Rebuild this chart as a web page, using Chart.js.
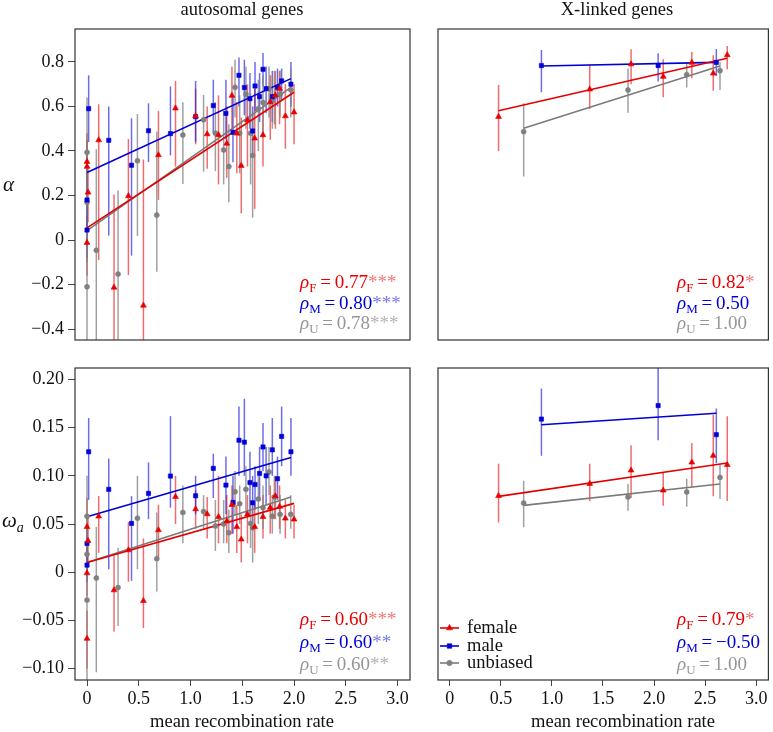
<!DOCTYPE html>
<html>
<head>
<meta charset="utf-8">
<script src="https://cdn.jsdelivr.net/npm/chart.js@4.4.1/dist/chart.umd.min.js"></script>
<style>
  body { margin:0; background:#fff; width:773px; height:732px; overflow:hidden; position:relative; font-family:'Liberation Serif', serif; }
  canvas { position:absolute; left:0; top:0; }
  .t { position:absolute; white-space:nowrap; line-height:1; color:#111; z-index:5; }
  .rho { position:absolute; white-space:nowrap; line-height:1; font-size:19px; z-index:5; }
  .rho sub { font-size:13px; vertical-align:-4px; line-height:0; }
</style>
</head>
<body>
<script>
// ---------- data ----------
const xTicks = [0, 0.5, 1, 1.5, 2, 2.5, 3];
const xTickLabels = ['0', '0.5', '1.0', '1.5', '2.0', '2.5', '3.0'];
const alphaTicks = [-0.4, -0.2, 0, 0.2, 0.4, 0.6, 0.8];
const alphaTickLabels = ['\u22120.4', '\u22120.2', '0', '0.2', '0.4', '0.6', '0.8'];
const omegaTicks = [-0.1, -0.05, 0, 0.05, 0.1, 0.15, 0.2];
const omegaTickLabels = ['\u22120.10', '\u22120.05', '0', '0.05', '0.10', '0.15', '0.20'];

// autosomal, female-biased
const autoFX = [0, 0.01, 0, 0, 0.113, 0.261, 0.40, 0.545, 0.69, 0.855, 1.049, 1.161, 1.27, 1.35, 1.40, 1.447, 1.49, 1.55, 1.62, 1.70, 1.77, 1.82, 1.86, 1.916, 2.0];
const autoFAlpha = [0.352, 0.214, -0.012, 0.33, 0.449, -0.213, 0.198, -0.294, 0.382, 0.592, 0.557, 0.476, 0.472, 0.434, 0.649, 0.479, 0.334, 0.539, 0.457, 0.472, 0.62, 0.65, 0.68, 0.557, 0.574];
const autoFAlphaHi = [0.48, 0.33, 0.11, 0.45, 0.61, 0.205, 0.454, 0.362, 0.58, 0.715, 0.68, 0.60, 0.65, 0.60, 0.78, 0.62, 0.55, 0.70, 0.68, 0.62, 0.74, 0.76, 0.76, 0.70, 0.70];
const autoFAlphaLo = [0.22, 0.08, -0.16, 0.20, -0.09, -0.60, -0.157, -0.70, 0.18, 0.33, 0.43, 0.32, 0.25, 0.28, 0.50, 0.30, 0.12, 0.33, 0.14, 0.33, 0.45, 0.50, 0.52, 0.41, 0.43];
const autoFOmega = [0.047, 0.0326, -0.001, -0.069, 0.058, -0.0187, 0.0229, -0.0298, 0.0437, 0.0783, 0.0655, 0.0603, 0.0575, 0.053, 0.070, 0.047, 0.034, 0.06, 0.047, 0.0575, 0.067, 0.079, 0.068, 0.0558, 0.0548];
const autoFOmegaHi = [0.077, 0.06, 0.025, -0.04, 0.079, 0.017, 0.052, 0.035, 0.07, 0.10, 0.085, 0.078, 0.10, 0.08, 0.09, 0.07, 0.06, 0.08, 0.07, 0.08, 0.09, 0.10, 0.09, 0.075, 0.07];
const autoFOmegaLo = [0.02, 0.005, -0.025, -0.10, 0.02, -0.062, -0.01, -0.058, 0.015, 0.05, 0.045, 0.035, 0.03, 0.03, 0.04, 0.02, 0.01, 0.03, 0.02, 0.035, 0.04, 0.055, 0.045, 0.035, 0.035];

// autosomal, male-biased
const autoMX = [0.016, 0, 0, 0.21, 0.43, 0.594, 0.806, 1.049, 1.22, 1.342, 1.41, 1.468, 1.52, 1.574, 1.60, 1.623, 1.667, 1.70, 1.73, 1.79, 1.84, 1.88, 1.97];
const autoMAlpha = [0.59, 0.18, 0.045, 0.448, 0.336, 0.491, 0.478, 0.554, 0.604, 0.569, 0.484, 0.74, 0.685, 0.635, 0.49, 0.692, 0.644, 0.767, 0.68, 0.644, 0.686, 0.715, 0.70];
const autoMAlphaHi = [0.74, 0.30, 0.17, 0.60, 0.547, 0.614, 0.69, 0.715, 0.72, 0.72, 0.65, 0.82, 0.81, 0.75, 0.60, 0.80, 0.75, 0.84, 0.78, 0.76, 0.77, 0.77, 0.80];
const autoMAlphaLo = [0.44, 0.06, -0.08, 0.02, -0.07, 0.35, 0.38, 0.44, 0.48, 0.45, 0.35, 0.60, 0.56, 0.50, 0.38, 0.58, 0.53, 0.69, 0.57, 0.53, 0.60, 0.63, 0.60];
const autoMOmega = [0.125, 0.0298, 0.0073, 0.086, 0.0506, 0.0818, 0.0998, 0.0793, 0.1078, 0.0904, 0.0724, 0.137, 0.135, 0.093, 0.072, 0.091, 0.1026, 0.130, 0.100, 0.127, 0.097, 0.141, 0.125];
const autoMOmegaHi = [0.16, 0.05, 0.025, 0.118, 0.079, 0.114, 0.162, 0.10, 0.123, 0.12, 0.10, 0.172, 0.18, 0.125, 0.10, 0.11, 0.13, 0.155, 0.13, 0.16, 0.12, 0.172, 0.16];
const autoMOmegaLo = [0.075, 0.01, -0.01, 0.003, -0.009, 0.055, 0.067, 0.06, 0.077, 0.06, 0.04, 0.10, 0.10, 0.06, 0.05, 0.065, 0.075, 0.105, 0.07, 0.10, 0.075, 0.11, 0.10];

// autosomal, unbiased
const autoUX = [0, 0, 0, 0.09, 0.30, 0.487, 0.674, 0.926, 1.126, 1.24, 1.32, 1.37, 1.43, 1.475, 1.535, 1.58, 1.60, 1.655, 1.70, 1.758, 1.79, 1.81, 1.865, 1.968];
const autoUAlpha = [0.394, 0.17, -0.21, -0.046, -0.153, 0.356, 0.112, 0.472, 0.54, 0.48, 0.405, 0.33, 0.686, 0.48, 0.655, 0.48, 0.38, 0.59, 0.618, 0.68, 0.626, 0.645, 0.655, 0.675];
const autoUAlphaHi = [0.64, 0.45, 0.05, 0.408, 0.222, 0.566, 0.487, 0.619, 0.652, 0.62, 0.58, 0.52, 0.81, 0.65, 0.78, 0.66, 0.58, 0.72, 0.74, 0.78, 0.74, 0.76, 0.76, 0.77];
const autoUAlphaLo = [0.15, -0.1, -0.5, -0.5, -0.5, 0.018, -0.142, 0.252, 0.307, 0.31, 0.25, 0.17, 0.55, 0.30, 0.50, 0.25, 0.10, 0.40, 0.46, 0.55, 0.50, 0.52, 0.55, 0.55];
const autoUOmega = [0.058, 0.0187, -0.029, -0.006, -0.016, 0.056, 0.014, 0.062, 0.063, 0.048, 0.05, 0.041, 0.0835, 0.071, 0.086, 0.0506, 0.046, 0.076, 0.067, 0.104, 0.058, 0.078, 0.06, 0.06];
const autoUOmegaHi = [0.10, 0.05, 0.0, 0.047, 0.025, 0.10, 0.062, 0.09, 0.08, 0.075, 0.075, 0.065, 0.105, 0.09, 0.11, 0.075, 0.07, 0.10, 0.09, 0.13, 0.08, 0.10, 0.08, 0.08];
const autoUOmegaLo = [0.02, -0.01, -0.12, -0.104, -0.056, 0.003, -0.02, 0.03, 0.045, 0.022, 0.03, 0.02, 0.06, 0.05, 0.06, 0.025, 0.01, 0.05, 0.045, 0.08, 0.04, 0.055, 0.04, 0.045];

// X-linked
const xlinkFX = [0.477, 1.37, 1.775, 2.09, 2.37, 2.58, 2.717];
const xlinkFAlpha = [0.554, 0.677, 0.79, 0.734, 0.797, 0.749, 0.831];
const xlinkFAlphaHi = [0.697, 0.786, 0.857, 0.812, 0.846, 0.83, 0.872];
const xlinkFAlphaLo = [0.40, 0.589, 0.70, 0.641, 0.727, 0.671, 0.767];
const xlinkFOmega = [0.0793, 0.0918, 0.1057, 0.0849, 0.114, 0.121, 0.1115];
const xlinkFOmegaHi = [0.1126, 0.1126, 0.1317, 0.104, 0.134, 0.1635, 0.162];
const xlinkFOmegaLo = [0.0516, 0.0735, 0.0769, 0.0689, 0.088, 0.0787, 0.074];

const xlinkMX = [0.897, 2.04, 2.61];
const xlinkMAlpha = [0.784, 0.784, 0.798];
const xlinkMAlphaHi = [0.854, 0.839, 0.858];
const xlinkMAlphaLo = [0.664, 0.712, 0.737];
const xlinkMOmega = [0.159, 0.173, 0.1427];
const xlinkMOmegaHi = [0.1906, 0.22, 0.170];
const xlinkMOmegaLo = [0.121, 0.137, 0.113];

const xlinkUX = [0.723, 1.745, 2.32, 2.646];
const xlinkUAlpha = [0.487, 0.674, 0.743, 0.761];
const xlinkUAlphaHi = [0.614, 0.771, 0.797, 0.80];
const xlinkUAlphaLo = [0.285, 0.572, 0.685, 0.674];
const xlinkUOmega = [0.0717, 0.078, 0.0832, 0.0984];
const xlinkUOmegaHi = [0.095, 0.0915, 0.097, 0.112];
const xlinkUOmegaLo = [0.0465, 0.0637, 0.068, 0.0759];

// fitted lines (end points)
const autoFFitX = [0, 2.0],   autoFAlphaFit = [0.055, 0.664], autoFOmegaFit = [0.010, 0.0714];
const autoMFitX = [0, 1.97],  autoMAlphaFit = [0.303, 0.725], autoMOmegaFit = [0.0575, 0.119];
const autoUFitX = [0, 1.97],  autoUAlphaFit = [0.042, 0.686], autoUOmegaFit = [0.010, 0.078];
const xlinkFFitX = [0.477, 2.717], xlinkFAlphaFit = [0.581, 0.817], xlinkFOmegaFit = [0.0787, 0.1133];
const xlinkMFitX = [0.897, 2.61],  xlinkMAlphaFit = [0.782, 0.798], xlinkMOmegaFit = [0.153, 0.165];
const xlinkUFitX = [0.723, 2.646], xlinkUAlphaFit = [0.502, 0.782], xlinkUOmegaFit = [0.0693, 0.0915];

// correlations
const rhoAutoAlpha = ['0.77', '0.80', '0.78'],  starsAutoAlpha = ['***', '***', '***'];
const rhoXAlpha = ['0.82', '0.50', '1.00'],     starsXAlpha = ['*', '', ''];
const rhoAutoOmega = ['0.60', '0.60', '0.60'],  starsAutoOmega = ['***', '**', '**'];
const rhoXOmega = ['0.79', '\u22120.50', '1.00'], starsXOmega = ['*', '', ''];
const groupNames = ['female', 'male', 'unbiased'];

// ---------- styles ----------
const W = 773, H = 732, XH = 40;
const FONT = "'Liberation Serif', serif";
const sty = {
  F: { c: 'rgb(232,0,0)', bar: 'rgba(232,20,20,0.62)', line: 'rgb(228,0,0)', shape: 'triangle', r: 3.4, sub: 'F', star: 'rgba(232,0,0,0.55)' },
  M: { c: 'rgb(0,0,215)', bar: 'rgba(20,20,220,0.62)', line: 'rgb(0,0,210)', shape: 'rect', r: 3.0, sub: 'M', star: 'rgba(0,0,215,0.55)' },
  U: { c: 'rgb(128,128,128)', bar: 'rgba(128,128,128,0.75)', line: 'rgb(122,122,122)', shape: 'circle', r: 2.5, sub: 'U', star: 'rgba(128,128,128,0.6)' }
};
const rhoColor = { F: 'rgb(232,0,0)', M: 'rgb(0,0,210)', U: 'rgb(150,150,150)' };

const errorBars = {
  id: 'errorBars',
  beforeDatasetsDraw(chart) {
    const { ctx, chartArea: a, scales: { x, y } } = chart;
    ctx.save();
    ctx.beginPath(); ctx.rect(a.left, a.top, a.width, a.height); ctx.clip();
    chart.data.datasets.forEach(ds => {
      if (!ds.lo) return;
      ctx.strokeStyle = ds.barColor; ctx.lineWidth = 1.5;
      ds.data.forEach((p, i) => {
        const px = x.getPixelForValue(p.x);
        ctx.beginPath();
        ctx.moveTo(px, y.getPixelForValue(ds.lo[i]));
        ctx.lineTo(px, y.getPixelForValue(ds.hi[i]));
        ctx.stroke();
      });
    });
    ctx.restore();
  }
};

const frame = {
  id: 'frame',
  afterDatasetsDraw(chart) {
    const { ctx, chartArea: a } = chart;
    ctx.save();
    ctx.strokeStyle = '#333'; ctx.lineWidth = 1.2;
    ctx.strokeRect(a.left, a.top, a.width, a.height);
    ctx.restore();
  }
};

function pts(xs, ys) { return xs.map((v, i) => ({ x: v, y: ys[i] })); }

function series(key, xs, ys, lo, hi, fx, fy) {
  const s = sty[key];
  return [
    { data: pts(fx, fy), showLine: true, pointRadius: 0, borderColor: s.line, borderWidth: 1.6, order: 3, clip: 0 },
    { data: pts(xs, ys), lo: lo, hi: hi, barColor: s.bar, pointStyle: s.shape, pointRadius: s.r,
      backgroundColor: s.c, borderColor: s.c, pointBorderWidth: 0.6, order: 1, clip: 0 }
  ];
}

function panel(box, showX, showY, yMin, yMax, yTicks, yLabels, datasets, extra) {
  const cv = document.createElement('canvas');
  cv.width = W; cv.height = H;
  document.body.appendChild(cv);
  const tickFont = { family: FONT, size: 18 };
  return new Chart(cv, {
    type: 'scatter',
    data: { datasets: datasets },
    options: {
      responsive: false, animation: false, events: [],
      layout: { padding: { left: showY ? 0 : box.l, right: W - box.r, top: box.t, bottom: showX ? H - box.b - XH : H - box.b } },
      plugins: { legend: { display: false }, tooltip: { enabled: false } },
      scales: {
        x: {
          type: 'linear', min: -0.116, max: 3.12, display: showX,
          afterBuildTicks: s => { s.ticks = xTicks.map(v => ({ value: v })); },
          afterFit: s => { s.height = showX ? XH : 0; },
          grid: { drawOnChartArea: false, drawTicks: true, tickLength: 6, color: '#444' },
          border: { display: false },
          ticks: { callback: v => xTickLabels[xTicks.indexOf(v)], font: tickFont, color: '#111', padding: 2, maxRotation: 0, autoSkip: false }
        },
        y: {
          type: 'linear', min: yMin, max: yMax, display: showY,
          afterBuildTicks: s => { s.ticks = yTicks.map(v => ({ value: v })); },
          afterFit: s => { s.width = showY ? box.l : 0; },
          grid: { drawOnChartArea: false, drawTicks: true, tickLength: 7, color: '#444' },
          border: { display: false },
          ticks: { callback: v => yLabels[yTicks.indexOf(v)], font: tickFont, color: '#111', padding: 4, autoSkip: false }
        }
      }
    },
    plugins: [errorBars, frame].concat(extra || [])
  });
}

const legendGlyphs = {
  id: 'legendGlyphs',
  afterDraw(chart) {
    const ctx = chart.ctx;
    ['F', 'M', 'U'].forEach((k, i) => {
      const s = sty[k], y = [628, 646, 663][i];
      ctx.save();
      ctx.strokeStyle = s.line; ctx.lineWidth = 1.6;
      ctx.beginPath(); ctx.moveTo(440, y); ctx.lineTo(459, y); ctx.stroke();
      ctx.fillStyle = s.c; ctx.strokeStyle = s.c; ctx.lineWidth = 0.6;
      Chart.helpers.drawPoint(ctx, { pointStyle: s.shape, radius: s.r + 0.2, rotation: 0, borderWidth: 0.6 }, 449.5, y);
      ctx.restore();
    });
  }
};

const TL = { l: 75, t: 29, r: 410, b: 340 };
const TR = { l: 438, t: 29, r: 772, b: 340 };
const BL = { l: 75, t: 368, r: 410, b: 680 };
const BR = { l: 438, t: 368, r: 772, b: 680 };
const aMin = -0.449, aMax = 0.948, oMin = -0.112, oMax = 0.212;

panel(TL, false, true, aMin, aMax, alphaTicks, alphaTickLabels, [].concat(
  series('F', autoFX, autoFAlpha, autoFAlphaLo, autoFAlphaHi, autoFFitX, autoFAlphaFit),
  series('M', autoMX, autoMAlpha, autoMAlphaLo, autoMAlphaHi, autoMFitX, autoMAlphaFit),
  series('U', autoUX, autoUAlpha, autoUAlphaLo, autoUAlphaHi, autoUFitX, autoUAlphaFit)));

panel(TR, false, false, aMin, aMax, alphaTicks, alphaTickLabels, [].concat(
  series('F', xlinkFX, xlinkFAlpha, xlinkFAlphaLo, xlinkFAlphaHi, xlinkFFitX, xlinkFAlphaFit),
  series('M', xlinkMX, xlinkMAlpha, xlinkMAlphaLo, xlinkMAlphaHi, xlinkMFitX, xlinkMAlphaFit),
  series('U', xlinkUX, xlinkUAlpha, xlinkUAlphaLo, xlinkUAlphaHi, xlinkUFitX, xlinkUAlphaFit)));

panel(BL, true, true, oMin, oMax, omegaTicks, omegaTickLabels, [].concat(
  series('F', autoFX, autoFOmega, autoFOmegaLo, autoFOmegaHi, autoFFitX, autoFOmegaFit),
  series('M', autoMX, autoMOmega, autoMOmegaLo, autoMOmegaHi, autoMFitX, autoMOmegaFit),
  series('U', autoUX, autoUOmega, autoUOmegaLo, autoUOmegaHi, autoUFitX, autoUOmegaFit)));

panel(BR, true, false, oMin, oMax, omegaTicks, omegaTickLabels, [].concat(
  series('F', xlinkFX, xlinkFOmega, xlinkFOmegaLo, xlinkFOmegaHi, xlinkFFitX, xlinkFOmegaFit),
  series('M', xlinkMX, xlinkMOmega, xlinkMOmegaLo, xlinkMOmegaHi, xlinkMFitX, xlinkMOmegaFit),
  series('U', xlinkUX, xlinkUOmega, xlinkUOmegaLo, xlinkUOmegaHi, xlinkUFitX, xlinkUOmegaFit)), [legendGlyphs]);

// ---------- text ----------
function text(html, left, top, size, center) {
  const d = document.createElement('div');
  d.className = 't';
  d.innerHTML = html;
  d.style.left = left + 'px'; d.style.top = top + 'px'; d.style.fontSize = size + 'px';
  if (center) d.style.transform = 'translateX(-50%)';
  document.body.appendChild(d);
}
text('autosomal genes', 242, 0, 18.5, true);
text('X-linked genes', 617, 0, 18.5, true);
text('mean recombination rate', 242, 712, 18.5, true);
text('mean recombination rate', 623, 712, 18.5, true);
text('<i>\u03b1</i>', 3, 174, 21);
text('<i>\u03c9</i><sub style="font-size:14px;vertical-align:-5px"><i>a</i></sub>', 2, 510, 21);

function rhoBlock(left, top, vals, stars, gap) {
  ['F', 'M', 'U'].forEach((k, i) => {
    const d = document.createElement('div');
    d.className = 'rho';
    d.style.left = left + 'px'; d.style.top = (top + i * gap) + 'px';
    d.style.color = rhoColor[k];
    d.innerHTML = '<i>\u03c1</i><sub>' + sty[k].sub + '</sub>\u2009=\u2009' + vals[i] +
      '<span style="color:' + sty[k].star + '">' + stars[i] + '</span>';
    document.body.appendChild(d);
  });
}
rhoBlock(300, 272, rhoAutoAlpha, starsAutoAlpha, 20.5);
rhoBlock(677, 272, rhoXAlpha, starsXAlpha, 20.5);
rhoBlock(300, 609, rhoAutoOmega, starsAutoOmega, 22.5);
rhoBlock(677, 609, rhoXOmega, starsXOmega, 22.5);

groupNames.forEach((n, i) => text(n, 467, [628, 646, 663][i] - 10, 18.5, false));
</script>
</body>
</html>
